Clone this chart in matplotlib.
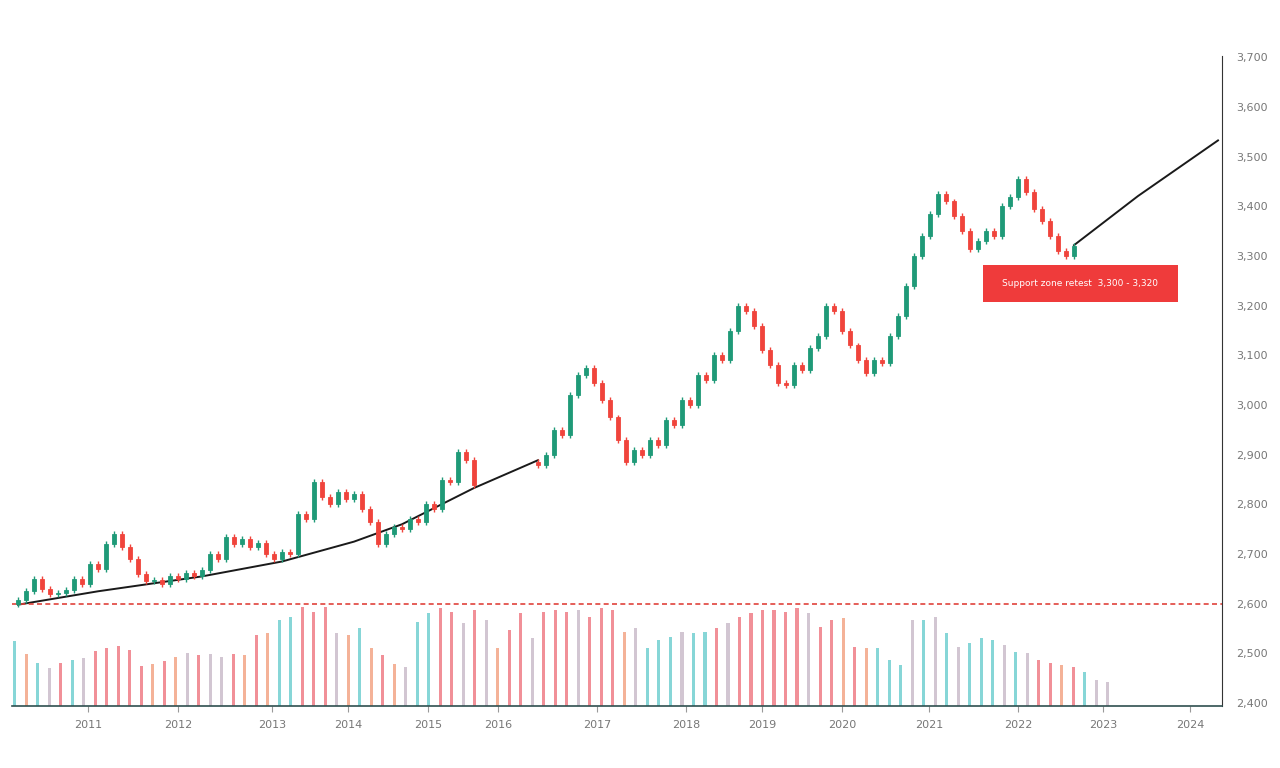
import matplotlib
matplotlib.use("Agg")
import matplotlib.pyplot as plt
from matplotlib.patches import Rectangle
import numpy as np

# candle closes, two runs separated by a gap (index = bar number)
start_a = 0
open_a = 2600
closes_a = [2607, 2625, 2650, 2630, 2620, 2622, 2628, 2650, 2640, 2680,
            2670, 2720, 2740, 2715, 2690, 2660, 2645, 2648, 2640, 2655,
            2650, 2662, 2655, 2668, 2700, 2690, 2735, 2720, 2730, 2715,
            2722, 2700, 2690, 2705, 2700, 2780, 2770, 2845, 2815, 2800,
            2825, 2810, 2820, 2790, 2765, 2720, 2740, 2755, 2750, 2770,
            2765, 2800, 2790, 2850, 2845, 2905, 2890, 2840]
start_b = 65
open_b = 2885
closes_b = [2880, 2900, 2950, 2940, 3020, 3060, 3075, 3045, 3010, 2975,
            2930, 2885, 2910, 2900, 2930, 2920, 2970, 2960, 3010, 3000,
            3060, 3050, 3100, 3090, 3150, 3200, 3190, 3160, 3110, 3080,
            3045, 3040, 3080, 3070, 3115, 3140, 3200, 3190, 3150, 3120,
            3090, 3065, 3090, 3085, 3140, 3180, 3240, 3300, 3340, 3385,
            3425, 3410, 3380, 3350, 3315, 3330, 3350, 3340, 3400, 3420,
            3455, 3430, 3395, 3370, 3340, 3310, 3300, 3320]

# black trend line
trend_idx = [0, 10, 23, 33, 42, 48, 57, 65, np.nan, 132, 140, 150]
trend_val = [2598, 2625, 2655, 2685, 2725, 2760, 2833, 2889, np.nan, 3322, 3421, 3533]

# volume (thousands) and direction of each volume bar
volume = [650, 520, 430, 380, 430, 460, 480, 550, 580, 600, 560, 400, 420, 450, 490,
          530, 510, 520, 490, 520, 510, 710, 730, 860, 890, 990, 940, 990, 730, 710,
          780, 580, 510, 420, 390,
          840, 930, 980, 940, 830, 960, 860, 580, 760, 930, 680, 940, 960, 940, 960,
          890, 980, 960,
          740, 780, 580, 660, 690, 740, 730, 740, 780, 830, 890, 930, 960, 960, 940,
          980, 930, 790, 860, 880, 590, 580, 580, 460, 410, 860, 860, 890, 730, 590,
          630, 680, 660, 610, 540, 530, 460, 430, 410, 390, 340, 260, 240]
vol_dir = ("uoufdufddddd" "odofdffdodouuddd" "fouodof"
           "uuddfdfoddfdddfdd"
           "doguuufuudfddddddfddodo" "uuufufufuuufufddodu" "f")

dashed_level = 2600
yticks = [2400, 2500, 2600, 2700, 2800, 2900, 3000, 3100, 3200, 3300, 3400, 3500, 3600, 3700]
xtick_pos = [8.75, 20, 31.75, 41.25, 51.25, 60, 72.4, 83.5, 93, 103, 113.9, 125, 135.6, 146.5]
xtick_lab = ["2011", "2012", "2013", "2014", "2015", "2016", "2017",
             "2018", "2019", "2020", "2021", "2022", "2023", "2024"]
note_text = "Support zone retest  3,300 - 3,320"

UP = "#1f9a78"
DOWN = "#f0443c"
vol_cols = {"u": "#72cfd0", "d": "#ef7d86", "o": "#f3a586", "f": "#cbbccb", "g": "#cbbccb"}

fig = plt.figure(figsize=(12.8, 7.68), dpi=100)
ax = fig.add_axes([12/1280, 1-706/768, 1210/1280, 650/768])

# volume on a hidden twin axis
axv = ax.twinx()
axv.set_zorder(0)
ax.set_zorder(1)
ax.patch.set_visible(False)
n_vol = len(volume)
vx = np.linspace(-0.4, 136.2, n_vol)
vc = [vol_cols.get(vol_dir[i] if i < len(vol_dir) else "f", "#cbbccb") for i in range(n_vol)]
axv.bar(vx, volume, width=0.38, color=vc, alpha=0.85, linewidth=0)
axv.set_ylim(0, 6500)
axv.set_yticks([])
for s in axv.spines.values():
    s.set_visible(False)


def draw_candles(start, first_open, closes):
    opens = [first_open] + closes[:-1]
    for k, (o, c) in enumerate(zip(opens, closes)):
        x = start + k
        col = UP if c >= o else DOWN
        lo, hi = min(o, c), max(o, c)
        ax.vlines(x, lo - 6, hi + 6, color=col, lw=1.0, zorder=3)
        ax.add_patch(Rectangle((x - 0.3, lo), 0.6, max(hi - lo, 2),
                               facecolor=col, edgecolor=col, lw=0.6, zorder=4))


draw_candles(start_a, open_a, closes_a)
draw_candles(start_b, open_b, closes_b)

ax.plot(trend_idx, trend_val, color="#1a1a1a", lw=1.4, zorder=2)
ax.axhline(dashed_level, color="#e0433c", lw=1.2, ls=(0, (3, 2)), zorder=2)

# red note box
ax.add_patch(Rectangle((120.6, 3207), 24.4, 76, facecolor="#ef3b3b",
                       edgecolor="none", zorder=5))
ax.text(132.8, 3245, note_text, color="white", fontsize=6.5,
        ha="center", va="center", zorder=6)

ax.set_xlim(-0.75, 150.5)
ax.set_ylim(2394, 3703)
ax.yaxis.tick_right()
ax.set_yticks(yticks)
ax.set_yticklabels([f"{v:,}" for v in yticks])
ax.set_xticks(xtick_pos)
ax.set_xticklabels(xtick_lab)
ax.tick_params(axis="y", colors="#999999", labelsize=8, length=0, pad=10)
ax.tick_params(axis="x", colors="#999999", labelsize=8, length=4, pad=6)
for lab in ax.get_yticklabels() + ax.get_xticklabels():
    lab.set_color("#777777")
ax.spines["top"].set_visible(False)
ax.spines["left"].set_visible(False)
ax.spines["right"].set_color("#333333")
ax.spines["bottom"].set_color("#2f4f4f")
ax.spines["bottom"].set_linewidth(1.2)

fig.savefig("out.png", dpi=100)
